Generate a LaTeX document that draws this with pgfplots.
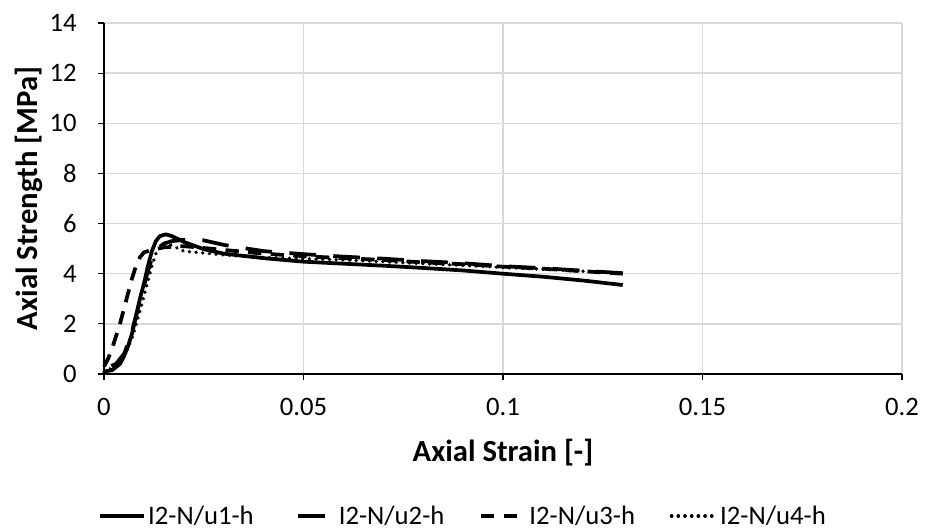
\documentclass[border=0pt]{standalone}
\usepackage{pgfplots}
\pgfplotsset{compat=1.18}
\usepackage{fontspec}
\setmainfont{Carlito}
\definecolor{gridgray}{HTML}{D9D9D9}
\begin{document}
\begin{tikzpicture}
\begin{axis}[
  at={(0pt,0pt)}, anchor=south west,
  scale only axis,
  width=598.5pt, height=263.25pt,
  xmin=0, xmax=0.2, ymin=0, ymax=14,
  xtick={0,0.05,0.1,0.15,0.2},
  xticklabels={0,0.05,0.1,0.15,0.2},
  ytick={0,2,...,14},
  axis lines*=left,
  axis line style={black, line width=1pt, -},
  grid=major,
  major grid style={gridgray, line width=1pt},
  tick style={black, line width=0.9pt},
  major tick length=4.5pt,
  tick align=outside,
  /pgf/number format/assume math mode=true,
  ticklabel style={font=\fontsize{20}{23}\selectfont},
  xticklabel style={yshift=-10pt},
  yticklabel style={xshift=-12.5pt},
  xlabel={\textbf{Axial Strain [-]}},
  ylabel={\textbf{Axial Strength [MPa]}},
  label style={font=\fontsize{23}{26}\selectfont},
  xlabel style={at={(axis description cs:0.5,-0.224)}, anchor=center},
  ylabel style={at={(axis description cs:-0.0936,0.5)}, anchor=center},
  legend columns=4,
  legend style={at={(axis description cs:0.45,-0.405)}, anchor=center, draw=none, fill=none,
    font=\fontsize{20}{24}\selectfont, column sep=0pt,
    nodes={inner xsep=2pt, inner ysep=1pt},
    /tikz/every even column/.append style={column sep=24pt}},
  legend cell align=left,
  legend image code/.code={\draw[#1] (0pt,0pt) -- (33pt,0pt);},
  every axis plot/.append style={black, line width=2.8pt, line join=round},
  clip=false,
]
\addplot[solid] coordinates {
(0,0.1)(0.002,0.15)(0.004,0.4)(0.005,0.7)(0.006,1.1)(0.007,1.6)(0.008,2.3)(0.009,3.0)(0.010,3.6)(0.011,4.3)(0.012,4.9)(0.013,5.3)(0.014,5.5)(0.0155,5.57)(0.017,5.5)(0.02,5.27)(0.025,4.98)(0.03,4.8)(0.04,4.62)(0.05,4.48)(0.06,4.40)(0.07,4.32)(0.08,4.23)(0.09,4.13)(0.1,4.0)(0.11,3.88)(0.12,3.73)(0.13,3.55)};
\addlegendentry{I2-N/u1-h}
\addplot[dash pattern=on 20pt off 13pt, dash phase=27pt] coordinates {
(0,0.2)(0.003,0.4)(0.005,0.8)(0.006,1.2)(0.007,1.7)(0.008,2.3)(0.009,2.9)(0.010,3.5)(0.011,4.1)(0.012,4.6)(0.013,4.95)(0.015,5.2)(0.017,5.3)(0.02,5.35)(0.025,5.33)(0.03,5.15)(0.04,4.9)(0.05,4.78)(0.06,4.68)(0.07,4.6)(0.08,4.5)(0.09,4.42)(0.1,4.3)(0.11,4.22)(0.12,4.12)(0.13,4.02)};
\addlegendentry{I2-N/u2-h}
\addplot[dash pattern=on 10pt off 7pt] coordinates {
(0,0.3)(0.001,0.6)(0.002,1.0)(0.003,1.5)(0.004,2.0)(0.005,2.6)(0.006,3.2)(0.007,3.8)(0.008,4.3)(0.009,4.65)(0.010,4.85)(0.012,4.95)(0.015,5.05)(0.02,5.1)(0.03,4.95)(0.04,4.8)(0.05,4.7)(0.06,4.62)(0.07,4.55)(0.08,4.45)(0.09,4.38)(0.1,4.28)(0.11,4.2)(0.12,4.1)(0.13,4.0)};
\addlegendentry{I2-N/u3-h}
\addplot[dash pattern=on 0.01pt off 5pt, line cap=round] coordinates {
(0,0.1)(0.003,0.3)(0.005,0.7)(0.007,1.4)(0.009,2.5)(0.011,3.7)(0.012,4.3)(0.013,4.8)(0.0145,5.15)(0.016,5.2)(0.018,5.05)(0.02,4.9)(0.03,4.75)(0.04,4.65)(0.05,4.6)(0.06,4.55)(0.07,4.48)(0.08,4.4)(0.09,4.33)(0.1,4.25)(0.11,4.18)(0.12,4.1)(0.13,4.03)};
\addlegendentry{I2-N/u4-h}
\end{axis}
\pgfresetboundingbox
\path[use as bounding box] (-78pt,-117.75pt) rectangle (615.75pt,280.5pt);
\end{tikzpicture}
\end{document}
